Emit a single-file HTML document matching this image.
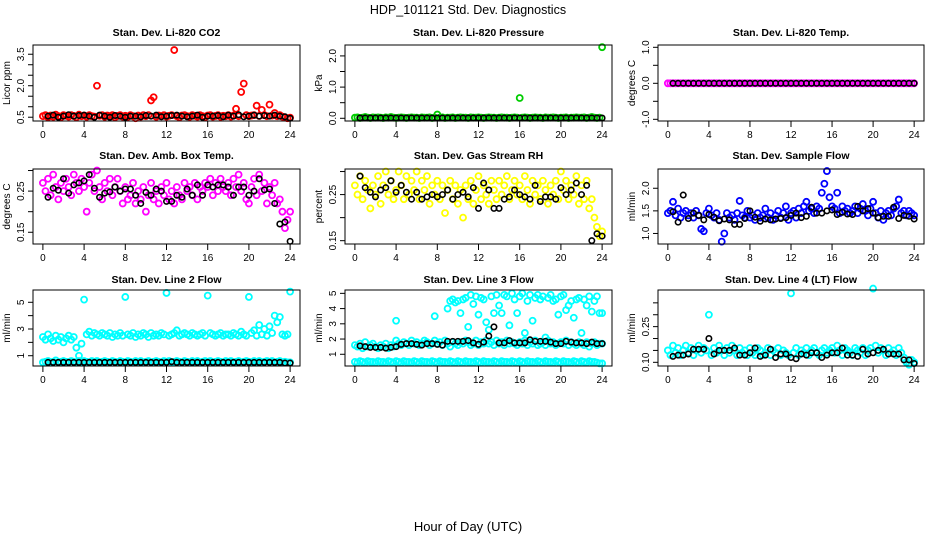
<!DOCTYPE html>
<html><head><meta charset="utf-8"><style>
body{margin:0;background:#fff;}
svg{display:block;font-family:"Liberation Sans",Arial,sans-serif;}
</style></head><body>
<svg id="c" width="936" height="540" viewBox="0 0 936 540">
<text x="468" y="14" text-anchor="middle" font-size="12.5">HDP_101121 Std. Dev. Diagnostics</text>
<text x="468" y="531" text-anchor="middle" font-size="13">Hour of Day (UTC)</text>
</svg>
<script>
// ---- data (colored series: 97 values, every 0.25 h from 0 to 24; black series: 48 values, every 0.5 h from 0.5 to 24)
const xTicks = [0,4,8,12,16,20,24];
const co2Red = [0.55,0.6,0.5,0.58,0.52,0.62,0.55,0.5, 0.6,0.57,0.53,0.6,0.56,0.5,0.62,0.55, 0.58,0.52,0.6,0.55,0.53,2.0,0.57,0.6, 0.52,0.58,0.55,0.6,0.5,0.56,0.6,0.53, 0.57,0.52,0.6,0.55,0.45,0.58,0.53,0.6, 0.55,0.6,1.3,1.45,0.52,0.58,0.55,0.6, 0.53,0.57,0.6,3.7,0.55,0.5,0.58,0.6, 0.55,0.52,0.6,0.57,0.53,0.6,0.55,0.5, 0.58,0.6,0.53,0.56,0.6,0.52,0.57,0.55, 0.6,0.53,0.58,0.9,0.55,1.7,2.1,0.6, 0.55,0.58,0.6,1.05,0.56,0.85,0.6,0.55, 1.1,0.58,0.7,0.55,0.6,0.53,0.5,0.45, 0.48];
const co2Black = [0.55,0.6,0.5,0.55,0.62,0.55,0.58,0.6, 0.55,0.5,0.6,0.55,0.5,0.58,0.55,0.5, 0.55,0.55,0.52,0.58,0.55,0.6,0.52,0.55, 0.58,0.6,0.55,0.52,0.55,0.6,0.5,0.55, 0.55,0.58,0.52,0.6,0.55,0.62,0.52,0.55, 0.6,0.55,0.58,0.55,0.6,0.55,0.52,0.45];
const presGreen = [0.02,0.03,0.01,0.02,0.04,0.02,0.01,0.03, 0.02,0.03,0.02,0.01,0.03,0.02,0.04,0.02, 0.01,0.02,0.03,0.02,0.01,0.02,0.03,0.02, 0.02,0.01,0.03,0.02,0.02,0.03,0.01,0.02, 0.12,0.02,0.03,0.01,0.02,0.02,0.03,0.01, 0.02,0.03,0.02,0.02,0.01,0.03,0.02,0.02, 0.03,0.02,0.01,0.02,0.03,0.02,0.02,0.01, 0.02,0.03,0.02,0.02,0.01,0.02,0.03,0.02, 0.65,0.02,0.03,0.02,0.01,0.02,0.03,0.02, 0.02,0.01,0.03,0.02,0.02,0.03,0.02,0.01, 0.02,0.02,0.03,0.01,0.02,0.02,0.03,0.02, 0.02,0.03,0.01,0.02,0.04,0.02,0.01,0.02, 2.28];
const presBlack = [0.01,0.01,0.01,0.01,0.01,0.01,0.01,0.01, 0.01,0.01,0.01,0.01,0.01,0.01,0.01,0.01, 0.01,0.01,0.01,0.01,0.01,0.01,0.01,0.01, 0.01,0.01,0.01,0.01,0.01,0.01,0.01,0.01, 0.01,0.01,0.01,0.01,0.01,0.01,0.01,0.01, 0.01,0.01,0.01,0.01,0.01,0.01,0.01,0.01];
const tempMagenta = [0,0,0,0,0,0,0,0, 0,0,0,0,0,0,0,0, 0,0,0,0,0,0,0,0, 0,0,0,0,0,0,0,0, 0,0,0,0,0,0,0,0, 0,0,0,0,0,0,0,0, 0,0,0,0,0,0,0,0, 0,0,0,0,0,0,0,0, 0,0,0,0,0,0,0,0, 0,0,0,0,0,0,0,0, 0,0,0,0,0,0,0,0, 0,0,0,0,0,0,0,0, 0];
const tempBlack = [0,0,0,0,0,0,0,0, 0,0,0,0,0,0,0,0, 0,0,0,0,0,0,0,0, 0,0,0,0,0,0,0,0, 0,0,0,0,0,0,0,0, 0,0,0,0,0,0,0,0];
const boxMagenta = [0.27,0.25,0.28,0.24,0.29,0.26,0.23,0.27, 0.25,0.28,0.26,0.24,0.29,0.27,0.25,0.28, 0.26,0.2,0.27,0.29,0.25,0.3,0.26,0.23, 0.27,0.25,0.28,0.24,0.26,0.28,0.25,0.22, 0.26,0.23,0.24,0.27,0.22,0.25,0.23,0.26, 0.2,0.24,0.27,0.23,0.25,0.22,0.26,0.24, 0.27,0.23,0.25,0.22,0.26,0.24,0.23,0.27, 0.25,0.26,0.24,0.27,0.23,0.26,0.25,0.27, 0.26,0.28,0.24,0.27,0.25,0.28,0.26,0.25, 0.27,0.24,0.28,0.26,0.29,0.25,0.27,0.23, 0.22,0.26,0.28,0.24,0.29,0.25,0.27,0.22, 0.26,0.24,0.27,0.22,0.23,0.2,0.16,0.18, 0.2];
const boxBlack = [0.235,0.257,0.252,0.28,0.245,0.265,0.27,0.275, 0.29,0.257,0.235,0.245,0.248,0.26,0.25,0.255, 0.255,0.24,0.22,0.247,0.24,0.255,0.25,0.225, 0.225,0.24,0.235,0.255,0.24,0.265,0.24,0.265, 0.26,0.265,0.265,0.26,0.24,0.26,0.26,0.24, 0.25,0.28,0.253,0.255,0.22,0.17,0.175,0.128];
const rhYellow = [0.27,0.25,0.29,0.24,0.28,0.26,0.22,0.27, 0.25,0.29,0.23,0.27,0.3,0.25,0.28,0.24, 0.26,0.3,0.27,0.24,0.29,0.25,0.28,0.26, 0.3,0.24,0.28,0.26,0.29,0.23,0.27,0.25, 0.28,0.24,0.27,0.21,0.26,0.28,0.24,0.27, 0.23,0.26,0.2,0.27,0.24,0.28,0.23,0.26, 0.29,0.24,0.27,0.25,0.23,0.28,0.26,0.24, 0.28,0.25,0.27,0.29,0.24,0.26,0.28,0.25, 0.27,0.24,0.29,0.26,0.23,0.28,0.25,0.27, 0.24,0.28,0.26,0.23,0.27,0.25,0.28,0.24, 0.3,0.26,0.28,0.24,0.27,0.25,0.29,0.23, 0.27,0.24,0.28,0.22,0.24,0.2,0.18,0.16, 0.17];
const rhBlack = [0.29,0.265,0.255,0.245,0.26,0.265,0.28,0.255, 0.27,0.255,0.24,0.255,0.24,0.245,0.25,0.245, 0.25,0.26,0.24,0.25,0.255,0.245,0.265,0.22, 0.275,0.26,0.22,0.22,0.24,0.245,0.26,0.25, 0.245,0.24,0.27,0.235,0.245,0.245,0.24,0.265, 0.25,0.26,0.275,0.25,0.27,0.15,0.165,0.16];
const flowBlue = [1.45,1.5,1.7,1.4,1.55,1.35,1.45,1.5, 1.4,1.45,1.35,1.5,1.4,1.1,1.05,1.45, 1.55,1.4,1.35,1.45,1.3,0.82,1.0,1.45, 1.35,1.4,1.3,1.45,1.72,1.4,1.35,1.5, 1.35,1.4,1.3,1.45,1.35,1.4,1.55,1.35, 1.45,1.3,1.4,1.5,1.35,1.45,1.6,1.3, 1.45,1.5,1.35,1.55,1.45,1.6,1.7,1.5, 1.55,1.45,1.6,1.55,1.9,2.1,2.38,1.8, 1.6,1.55,1.9,1.45,1.6,1.5,1.55,1.45, 1.5,1.6,1.45,1.55,1.65,1.5,1.4,1.55, 1.7,1.45,1.35,1.5,1.3,1.45,1.5,1.4, 1.55,1.6,1.75,1.45,1.5,1.4,1.5,1.45, 1.4];
const flowBlack = [1.48,1.25,1.85,1.33,1.45,1.4,1.3,1.42, 1.36,1.28,1.32,1.3,1.2,1.2,1.33,1.5, 1.36,1.27,1.32,1.3,1.32,1.33,1.35,1.4, 1.45,1.35,1.38,1.58,1.45,1.45,1.5,1.52, 1.42,1.47,1.43,1.42,1.6,1.5,1.55,1.45, 1.35,1.38,1.38,1.58,1.33,1.4,1.38,1.32];
const line2CyanHigh = [2.4,2.2,2.6,2.3,2.1,2.5,2.2,2.4, 2.0,2.3,2.5,2.2,2.4,1.6,1.0,1.9, 5.2,2.6,2.8,2.5,2.7,2.6,2.5,2.7, 2.6,2.5,2.7,2.4,2.6,2.5,2.7,2.5, 5.4,2.6,2.5,2.7,2.4,2.6,2.5,2.7, 2.6,2.4,2.7,2.5,2.6,2.5,2.7,2.6, 5.7,2.5,2.6,2.7,2.9,2.5,2.6,2.7, 2.6,2.5,2.7,2.6,2.5,2.6,2.7,2.5, 5.5,2.7,2.6,2.5,2.6,2.7,2.5,2.6, 2.6,2.5,2.7,2.6,2.5,2.8,2.6,2.5, 5.4,2.7,2.9,2.5,3.3,2.6,3.0,2.5, 3.2,2.7,4.0,3.5,3.9,2.6,2.5,2.6, 5.8];
const line2CyanLow = [0.5,0.55,0.6,0.5,0.55,0.65,0.5,0.55, 0.6,0.55,0.5,0.6,0.55,0.5,0.6,0.55, 0.6,0.55,0.5,0.6,0.55,0.6,0.5,0.55, 0.6,0.55,0.5,0.6,0.55,0.5,0.6,0.55, 0.5,0.6,0.55,0.5,0.6,0.55,0.6,0.5, 0.55,0.6,0.5,0.55,0.6,0.55,0.5,0.6, 0.55,0.6,0.5,0.55,0.6,0.55,0.5,0.6, 0.55,0.5,0.6,0.55,0.6,0.5,0.55,0.6, 0.55,0.6,0.5,0.55,0.6,0.55,0.5,0.6, 0.55,0.6,0.5,0.55,0.6,0.5,0.55,0.6, 0.55,0.5,0.6,0.55,0.6,0.5,0.55,0.6, 0.55,0.6,0.5,0.55,0.6,0.5,0.55,0.5, 0.5];
const line2Black = [0.5,0.5,0.5,0.5,0.5,0.5,0.5,0.5, 0.5,0.5,0.5,0.5,0.5,0.5,0.5,0.5, 0.5,0.5,0.5,0.5,0.5,0.5,0.5,0.5, 0.55,0.5,0.5,0.5,0.5,0.5,0.5,0.5, 0.5,0.5,0.5,0.5,0.5,0.5,0.5,0.5, 0.5,0.5,0.5,0.5,0.5,0.5,0.45,0.45];
const line3CyanTop = [null,null,null,null,null,null,null,null, null,null,null,null,null,null,null,null, 3.2,null,null,null,null,null,null,null, null,null,null,null,null,null,null,3.5, null,null,null,null,4.0,4.5,4.6,4.4, 4.5,3.7,4.6,4.7,2.8,4.9,4.3,4.8, 3.6,4.7,4.6,3.1,2.6,4.8,3.7,4.9, 4.2,3.7,4.9,4.8,2.9,5.0,4.6,3.7, 4.8,5.0,2.4,4.5,4.9,3.2,4.7,4.9, 4.6,4.8,2.1,4.7,4.9,4.5,4.6,3.6, 4.8,4.9,3.9,4.2,4.5,3.4,4.6,4.7, 2.4,4.6,4.2,4.8,3.8,4.5,4.8,3.7, 3.7];
const line3CyanMid = [1.6,1.5,1.7,1.4,1.8,1.5,1.6,1.7, 1.5,1.4,1.6,1.5,1.7,1.4,1.6,1.5, 1.9,1.7,1.6,1.8,1.7,1.6,1.9,1.7, 1.8,1.6,1.7,1.9,1.8,1.6,1.7,1.9, 1.7,1.8,1.6,1.9,1.7,1.5,1.8,1.7, 1.6,1.8,1.7,1.9,1.8,1.6,1.7,1.9, 1.6,1.8,1.7,1.9,1.7,1.8,1.6,1.9, 1.7,1.8,1.6,1.9,1.7,1.8,1.7,1.6, 1.8,1.7,1.9,1.6,1.8,1.7,1.9,1.6, 1.7,1.8,1.6,1.9,1.7,1.8,1.6,1.7, 1.8,1.7,1.9,1.6,1.8,1.7,1.6,1.8, 1.7,1.6,1.8,1.5,1.7,1.8,1.6,1.7, 1.7];
const line3CyanLow = [0.5,0.45,0.55,0.5,0.45,0.55,0.5,0.5, 0.45,0.55,0.5,0.5,0.45,0.55,0.5,0.45, 0.55,0.5,0.45,0.55,0.5,0.5,0.45,0.55, 0.5,0.45,0.55,0.5,0.5,0.45,0.55,0.5, 0.45,0.55,0.5,0.5,0.45,0.55,0.5,0.45, 0.55,0.5,0.45,0.55,0.5,0.5,0.45,0.55, 0.5,0.45,0.55,0.5,0.5,0.45,0.55,0.5, 0.45,0.55,0.5,0.5,0.45,0.55,0.5,0.45, 0.55,0.5,0.45,0.55,0.5,0.5,0.45,0.55, 0.5,0.45,0.55,0.5,0.5,0.45,0.55,0.5, 0.45,0.55,0.5,0.5,0.45,0.55,0.5,0.45, 0.55,0.5,0.45,0.55,0.5,0.5,0.45,0.4, 0.4];
const line3Black = [1.55,1.5,1.45,1.45,1.45,1.4,1.45,1.5, 1.65,1.7,1.7,1.65,1.6,1.7,1.7,1.65, 1.6,1.85,1.85,1.85,1.85,1.9,1.75,1.65, 1.8,2.2,2.8,1.75,1.75,1.9,1.75,1.75, 1.75,1.95,1.85,1.85,1.85,1.8,1.7,1.7, 1.85,1.8,1.75,1.75,1.7,1.8,1.7,1.7];
const line4Cyan = [0.15,0.13,0.17,0.14,0.16,0.13,0.15,0.17, 0.14,0.16,0.13,0.15,0.17,0.14,0.16,0.15, 0.3,0.13,0.16,0.14,0.17,0.15,0.13,0.16, 0.14,0.17,0.15,0.13,0.16,0.14,0.15,0.13, 0.16,0.14,0.13,0.16,0.15,0.13,0.14,0.16, 0.13,0.15,0.14,0.16,0.13,0.15,0.14,0.13, 0.39,0.14,0.16,0.13,0.15,0.14,0.16,0.13, 0.15,0.16,0.14,0.13,0.15,0.16,0.14,0.15, 0.16,0.14,0.17,0.15,0.13,0.16,0.15,0.14, 0.13,0.16,0.15,0.14,0.16,0.13,0.15,0.16, 0.41,0.17,0.14,0.16,0.15,0.13,0.16,0.14, 0.15,0.13,0.16,0.14,0.12,0.1,0.09,0.11, 0.1];
const line4Black = [0.125,0.13,0.13,0.135,0.155,0.155,0.155,0.2, 0.135,0.15,0.15,0.15,0.16,0.13,0.13,0.14, 0.16,0.125,0.13,0.155,0.12,0.135,0.135,0.12, 0.115,0.135,0.13,0.14,0.14,0.12,0.13,0.14, 0.14,0.16,0.13,0.13,0.125,0.155,0.135,0.14, 0.15,0.155,0.135,0.135,0.135,0.11,0.11,0.095];

// ---- layout / config
const cols = [{l:33,r:300},{l:345,r:612},{l:658,r:924}];
const rows = [{t:45,b:121,title:36},{t:169,b:244,title:159},{t:290,b:366,title:283}];
const panels = [
 {name:'co2',title:'Stan. Dev. Li-820 CO2',ylab:'Licor ppm',c:0,r:0,y0:0.32,y1:3.94,ticks:[0.5,1,1.5,2,2.5,3,3.5],labels:['0.5','2.0','3.5'],labelAt:[0.5,2,3.5],series:[[co2Red,'#ff0000'],[co2Black,'#000']]},
 {name:'pressure',title:'Stan. Dev. Li-820 Pressure',ylab:'kPa',c:1,r:0,y0:-0.087,y1:2.35,ticks:[0,0.5,1,1.5,2],labels:['0.0','1.0','2.0'],labelAt:[0,1,2],series:[[presGreen,'#00cd00'],[presBlack,'#000']]},
 {name:'li820-temp',title:'Stan. Dev. Li-820 Temp.',ylab:'degrees C',c:2,r:0,y0:-1.047,y1:1.064,ticks:[-1,-0.5,0,0.5,1],labels:['-1.0','0.0','1.0'],labelAt:[-1,0,1],series:[[tempMagenta,'#ff00ff'],[tempBlack,'#000']]},
 {name:'box-temp',title:'Stan. Dev. Amb. Box Temp.',ylab:'degrees C',c:0,r:1,y0:0.1215,y1:0.3037,ticks:[0.15,0.2,0.25,0.3],labels:['0.15','0.25'],labelAt:[0.15,0.25],series:[[boxMagenta,'#ff00ff'],[boxBlack,'#000']]},
 {name:'gas-rh',title:'Stan. Dev. Gas Stream RH',ylab:'percent',c:1,r:1,y0:0.1428,y1:0.3055,ticks:[0.15,0.2,0.25,0.3],labels:['0.15','0.25'],labelAt:[0.15,0.25],series:[[rhYellow,'#ffff00'],[rhBlack,'#000']]},
 {name:'sample-flow',title:'Stan. Dev. Sample Flow',ylab:'ml/min',c:2,r:1,y0:0.767,y1:2.426,ticks:[1,1.5,2],labels:['1.0','1.5','2.0'],labelAt:[1,1.5,2],series:[[flowBlue,'#0000ff'],[flowBlack,'#000']]},
 {name:'line2-flow',title:'Stan. Dev. Line 2 Flow',ylab:'ml/min',c:0,r:2,y0:0.23,y1:5.92,ticks:[1,2,3,4,5],labels:['1','3','5'],labelAt:[1,3,5],series:[[line2CyanHigh,'#00ffff'],[line2CyanLow,'#00ffff'],[line2Black,'#000']]},
 {name:'line3-flow',title:'Stan. Dev. Line 3 Flow',ylab:'ml/min',c:1,r:2,y0:0.23,y1:5.22,ticks:[1,2,3,4,5],labels:['1','2','3','4','5'],labelAt:[1,2,3,4,5],series:[[line3CyanTop,'#00ffff'],[line3CyanMid,'#00ffff'],[line3CyanLow,'#00ffff'],[line3Black,'#000']]},
 {name:'line4-flow',title:'Stan. Dev. Line 4 (LT) Flow',ylab:'ml/min',c:2,r:2,y0:0.0845,y1:0.404,ticks:[0.1,0.15,0.2,0.25,0.3,0.35],labels:['0.10','0.25'],labelAt:[0.1,0.25],series:[[line4Cyan,'#00ffff'],[line4Black,'#000']]}
];
const NS='http://www.w3.org/2000/svg';
const svg=document.getElementById('c');
function mk(tag,attrs,parent){const e=document.createElementNS(NS,tag);for(const k in attrs)e.setAttribute(k,attrs[k]);(parent||svg).appendChild(e);return e;}
panels.forEach(p=>{
  const C=cols[p.c],R=rows[p.r];
  const g=mk('g',{});
  
  
  const unit=(C.r-C.l)/25.92;
  const xs=h=>C.l+(h+0.96)*unit;
  const ys=v=>R.b-(v-p.y0)/(p.y1-p.y0)*(R.b-R.t);
  const t=mk('text',{x:(C.l+C.r)/2,y:R.title,'text-anchor':'middle','font-size':'10.5','font-weight':'bold'},g);
  t.textContent=p.title;
  
  
  xTicks.forEach(h=>{
    mk('line',{x1:xs(h),x2:xs(h),y1:R.b,y2:R.b+6,stroke:'#000','stroke-width':1},g);
    const tl=mk('text',{x:xs(h),y:R.b+17,'text-anchor':'middle','font-size':'10'},g);
    tl.textContent=h;
    
    
  });
  p.ticks.forEach(v=>mk('line',{x1:C.l-5,x2:C.l,y1:ys(v),y2:ys(v),stroke:'#000','stroke-width':1},g));
  p.labels.forEach((lab,i)=>{
    const y=ys(p.labelAt[i]), x=C.l-9;
    const yl=mk('text',{x:x,y:y,'text-anchor':'middle','font-size':'10',transform:`rotate(-90 ${x} ${y})`},g);
    yl.textContent=lab;
    
    
  });
  const yx=C.l-23, ym=(R.t+R.b)/2;
  const yt=mk('text',{x:yx,y:ym,'text-anchor':'middle','font-size':'10',transform:`rotate(-90 ${yx} ${ym})`},g);
  yt.textContent=p.ylab;
  
  
  p.series.forEach(([vals,col])=>{
    const black=col==='#000';
    vals.forEach((v,i)=>{
      if(v===null) return;
      const h=black?0.5+i*0.5:i*0.25;
      const pt=mk('circle',{cx:xs(h),cy:ys(v),r:black?2.7:3,fill:'none',stroke:col,'stroke-width':black?1.6:1.8},g);
      
      
    });
  });
  const box=mk('rect',{x:C.l,y:R.t,width:C.r-C.l,height:R.b-R.t,fill:'none',stroke:'#000','stroke-width':1},g);
  
  
});
</script>
</body></html>
